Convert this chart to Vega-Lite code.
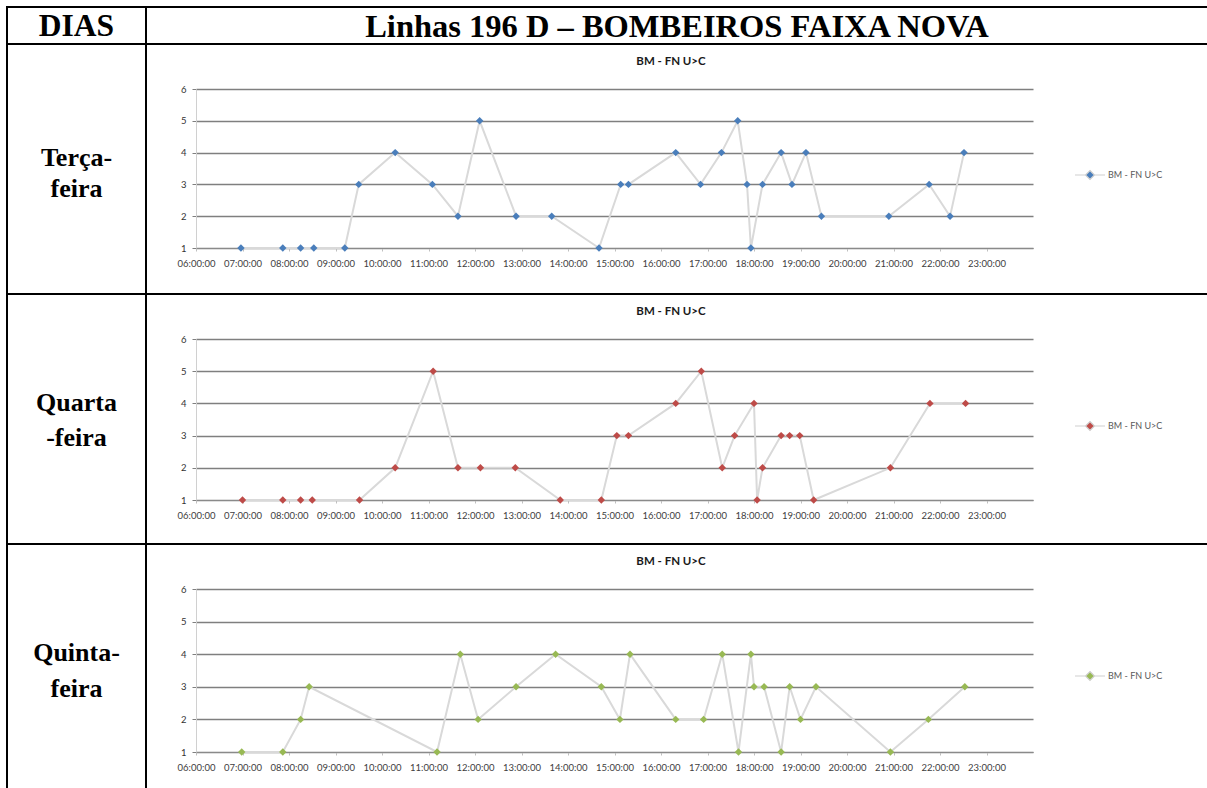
{
  "$schema": "https://vega.github.io/schema/vega-lite/v6.json",
  "padding": {"left": 6, "top": 6, "right": 0, "bottom": 0},
  "background": "white",
  "columns": 2,
  "spacing": 0,
  "bounds": "flush",
  "align": "each",
  "resolve": {"scale": {"color": "independent", "x": "independent", "y": "independent"}, "legend": {"color": "independent"}},
  "config": {
    "view": {"stroke": null},
    "axis": {"labelFont": "Lato", "labelFontSize": 9.5, "labelColor": "#404040", "labelFlush": false, "labelOverlap": false},
    "legend": {"orient": "none", "title": null, "symbolType": "M-1,0L-0.3,0M0.3,0L1,0M0,-0.3L0.3,0L0,0.3L-0.3,0Z", "symbolSize": 900, "symbolStrokeColor": "#d0d0d0", "symbolStrokeWidth": 1.2, "symbolOpacity": 1, "labelFont": "Lato", "labelFontSize": 9, "labelColor": "#595959", "labelOffset": 2}
  },
  "concat": [
    {
      "width": 139, "height": 37,
      "view": {"stroke": "#000", "strokeWidth": 2},
      "data": {"values": [{"t": "DIAS"}]},
      "mark": {"type": "text", "font": "Liberation Serif", "fontSize": 31.5, "fontWeight": "bold", "baseline": "middle", "dy": 1, "color": "#000"},
      "encoding": {"text": {"field": "t"}}
    },
    {
      "width": 1062, "height": 37,
      "view": {"stroke": "#000", "strokeWidth": 2},
      "data": {"values": [{"t": "Linhas 196 D – BOMBEIROS FAIXA NOVA"}]},
      "mark": {"type": "text", "font": "Liberation Serif", "fontSize": 32.5, "fontWeight": "bold", "baseline": "middle", "dy": 1, "color": "#000"},
      "encoding": {"text": {"field": "t"}}
    },
    {
      "width": 139, "height": 250,
      "view": {"stroke": "#000", "strokeWidth": 2},
      "data": {"values": [{"t": ["Terça-", "feira"]}]},
      "mark": {"type": "text", "font": "Liberation Serif", "fontSize": 26, "fontWeight": "bold", "baseline": "middle", "lineHeight": 31, "dy": -11, "color": "#000"},
      "encoding": {"text": {"field": "t"}}
    },
    {
      "width": 1062, "height": 250,
      "view": {"stroke": "#000", "strokeWidth": 2},
      "title": {"text": "BM - FN U>C", "anchor": "middle", "offset": -32, "dx": -6, "baseline": "alphabetic", "font": "Lato", "fontSize": 11.5, "fontWeight": "bold", "color": "#1a1a1a"},
      "data": {
        "values": [
          {"hora": "06:58", "valor": 1, "serie": "BM - FN U>C"},
          {"hora": "07:52", "valor": 1, "serie": "BM - FN U>C"},
          {"hora": "08:15", "valor": 1, "serie": "BM - FN U>C"},
          {"hora": "08:32", "valor": 1, "serie": "BM - FN U>C"},
          {"hora": "09:12", "valor": 1, "serie": "BM - FN U>C"},
          {"hora": "09:30", "valor": 3, "serie": "BM - FN U>C"},
          {"hora": "10:17", "valor": 4, "serie": "BM - FN U>C"},
          {"hora": "11:05", "valor": 3, "serie": "BM - FN U>C"},
          {"hora": "11:38", "valor": 2, "serie": "BM - FN U>C"},
          {"hora": "12:06", "valor": 5, "serie": "BM - FN U>C"},
          {"hora": "12:53", "valor": 2, "serie": "BM - FN U>C"},
          {"hora": "13:39", "valor": 2, "serie": "BM - FN U>C"},
          {"hora": "14:40", "valor": 1, "serie": "BM - FN U>C"},
          {"hora": "15:08", "valor": 3, "serie": "BM - FN U>C"},
          {"hora": "15:18", "valor": 3, "serie": "BM - FN U>C"},
          {"hora": "16:19", "valor": 4, "serie": "BM - FN U>C"},
          {"hora": "16:51", "valor": 3, "serie": "BM - FN U>C"},
          {"hora": "17:18", "valor": 4, "serie": "BM - FN U>C"},
          {"hora": "17:39", "valor": 5, "serie": "BM - FN U>C"},
          {"hora": "17:51", "valor": 3, "serie": "BM - FN U>C"},
          {"hora": "17:56", "valor": 1, "serie": "BM - FN U>C"},
          {"hora": "18:11", "valor": 3, "serie": "BM - FN U>C"},
          {"hora": "18:35", "valor": 4, "serie": "BM - FN U>C"},
          {"hora": "18:49", "valor": 3, "serie": "BM - FN U>C"},
          {"hora": "19:07", "valor": 4, "serie": "BM - FN U>C"},
          {"hora": "19:27", "valor": 2, "serie": "BM - FN U>C"},
          {"hora": "20:54", "valor": 2, "serie": "BM - FN U>C"},
          {"hora": "21:46", "valor": 3, "serie": "BM - FN U>C"},
          {"hora": "22:13", "valor": 2, "serie": "BM - FN U>C"},
          {"hora": "22:31", "valor": 4, "serie": "BM - FN U>C"}
        ],
        "format": {"parse": {"hora": "date:'%H:%M'"}}
      },
      "encoding": {
        "x": {
          "field": "hora", "type": "temporal",
          "scale": {"domain": [{"year": 1900, "month": 1, "date": 1, "hours": 6}, {"year": 1900, "month": 1, "date": 2, "hours": 0}], "range": [50, 887]},
          "axis": {
            "title": null, "format": "%H:%M:%S", "offset": -46, "grid": false,
            "domainColor": "#8a8a8a", "tickColor": "#bfbfbf", "tickSize": 3, "labelPadding": 7,
            "values": [
              {"year": 1900, "month": 1, "date": 1, "hours": 6}, {"year": 1900, "month": 1, "date": 1, "hours": 7},
              {"year": 1900, "month": 1, "date": 1, "hours": 8}, {"year": 1900, "month": 1, "date": 1, "hours": 9},
              {"year": 1900, "month": 1, "date": 1, "hours": 10}, {"year": 1900, "month": 1, "date": 1, "hours": 11},
              {"year": 1900, "month": 1, "date": 1, "hours": 12}, {"year": 1900, "month": 1, "date": 1, "hours": 13},
              {"year": 1900, "month": 1, "date": 1, "hours": 14}, {"year": 1900, "month": 1, "date": 1, "hours": 15},
              {"year": 1900, "month": 1, "date": 1, "hours": 16}, {"year": 1900, "month": 1, "date": 1, "hours": 17},
              {"year": 1900, "month": 1, "date": 1, "hours": 18}, {"year": 1900, "month": 1, "date": 1, "hours": 19},
              {"year": 1900, "month": 1, "date": 1, "hours": 20}, {"year": 1900, "month": 1, "date": 1, "hours": 21},
              {"year": 1900, "month": 1, "date": 1, "hours": 22}, {"year": 1900, "month": 1, "date": 1, "hours": 23}
            ]
          }
        },
        "y": {
          "field": "valor", "type": "quantitative",
          "scale": {"domain": [1, 6], "range": [204, 45], "nice": false, "zero": false},
          "axis": {"title": null, "values": [1, 2, 3, 4, 5, 6], "offset": -50, "grid": true, "gridColor": "#7f7f7f", "gridWidth": 1.5, "domainColor": "#d0d0d0", "tickColor": "#7f7f7f", "tickSize": 4, "labelPadding": 6, "labelColor": "#333"}
        }
      },
      "layer": [
        {"mark": {"type": "line", "color": "#d9d9d9", "strokeWidth": 2}},
        {
          "mark": {"type": "point", "shape": "diamond", "filled": true, "size": 55, "opacity": 1},
          "encoding": {"color": {"field": "serie", "type": "nominal", "scale": {"range": ["#4a7ebb"]}, "legend": {"legendX": 928, "legendY": 115, "symbolFillColor": "#4a7ebb"}}}
        }
      ]
    },
    {
      "width": 139, "height": 250,
      "view": {"stroke": "#000", "strokeWidth": 2},
      "data": {"values": [{"t": ["Quarta", "-feira"]}]},
      "mark": {"type": "text", "font": "Liberation Serif", "fontSize": 26, "fontWeight": "bold", "baseline": "middle", "lineHeight": 35, "dy": -16, "color": "#000"},
      "encoding": {"text": {"field": "t"}}
    },
    {
      "width": 1062, "height": 250,
      "view": {"stroke": "#000", "strokeWidth": 2},
      "title": {"text": "BM - FN U>C", "anchor": "middle", "offset": -32, "dx": -6, "baseline": "alphabetic", "font": "Lato", "fontSize": 11.5, "fontWeight": "bold", "color": "#1a1a1a"},
      "data": {
        "values": [
          {"hora": "07:00", "valor": 1, "serie": "BM - FN U>C"},
          {"hora": "07:52", "valor": 1, "serie": "BM - FN U>C"},
          {"hora": "08:15", "valor": 1, "serie": "BM - FN U>C"},
          {"hora": "08:30", "valor": 1, "serie": "BM - FN U>C"},
          {"hora": "09:31", "valor": 1, "serie": "BM - FN U>C"},
          {"hora": "10:17", "valor": 2, "serie": "BM - FN U>C"},
          {"hora": "11:06", "valor": 5, "serie": "BM - FN U>C"},
          {"hora": "11:38", "valor": 2, "serie": "BM - FN U>C"},
          {"hora": "12:07", "valor": 2, "serie": "BM - FN U>C"},
          {"hora": "12:52", "valor": 2, "serie": "BM - FN U>C"},
          {"hora": "13:50", "valor": 1, "serie": "BM - FN U>C"},
          {"hora": "14:43", "valor": 1, "serie": "BM - FN U>C"},
          {"hora": "15:03", "valor": 3, "serie": "BM - FN U>C"},
          {"hora": "15:18", "valor": 3, "serie": "BM - FN U>C"},
          {"hora": "16:19", "valor": 4, "serie": "BM - FN U>C"},
          {"hora": "16:52", "valor": 5, "serie": "BM - FN U>C"},
          {"hora": "17:19", "valor": 2, "serie": "BM - FN U>C"},
          {"hora": "17:35", "valor": 3, "serie": "BM - FN U>C"},
          {"hora": "18:00", "valor": 4, "serie": "BM - FN U>C"},
          {"hora": "18:04", "valor": 1, "serie": "BM - FN U>C"},
          {"hora": "18:11", "valor": 2, "serie": "BM - FN U>C"},
          {"hora": "18:35", "valor": 3, "serie": "BM - FN U>C"},
          {"hora": "18:46", "valor": 3, "serie": "BM - FN U>C"},
          {"hora": "18:59", "valor": 3, "serie": "BM - FN U>C"},
          {"hora": "19:17", "valor": 1, "serie": "BM - FN U>C"},
          {"hora": "20:56", "valor": 2, "serie": "BM - FN U>C"},
          {"hora": "21:47", "valor": 4, "serie": "BM - FN U>C"},
          {"hora": "22:33", "valor": 4, "serie": "BM - FN U>C"}
        ],
        "format": {"parse": {"hora": "date:'%H:%M'"}}
      },
      "encoding": {
        "x": {
          "field": "hora", "type": "temporal",
          "scale": {"domain": [{"year": 1900, "month": 1, "date": 1, "hours": 6}, {"year": 1900, "month": 1, "date": 2, "hours": 0}], "range": [50, 887]},
          "axis": {
            "title": null, "format": "%H:%M:%S", "offset": -44, "grid": false,
            "domainColor": "#8a8a8a", "tickColor": "#bfbfbf", "tickSize": 3, "labelPadding": 7,
            "values": [
              {"year": 1900, "month": 1, "date": 1, "hours": 6}, {"year": 1900, "month": 1, "date": 1, "hours": 7},
              {"year": 1900, "month": 1, "date": 1, "hours": 8}, {"year": 1900, "month": 1, "date": 1, "hours": 9},
              {"year": 1900, "month": 1, "date": 1, "hours": 10}, {"year": 1900, "month": 1, "date": 1, "hours": 11},
              {"year": 1900, "month": 1, "date": 1, "hours": 12}, {"year": 1900, "month": 1, "date": 1, "hours": 13},
              {"year": 1900, "month": 1, "date": 1, "hours": 14}, {"year": 1900, "month": 1, "date": 1, "hours": 15},
              {"year": 1900, "month": 1, "date": 1, "hours": 16}, {"year": 1900, "month": 1, "date": 1, "hours": 17},
              {"year": 1900, "month": 1, "date": 1, "hours": 18}, {"year": 1900, "month": 1, "date": 1, "hours": 19},
              {"year": 1900, "month": 1, "date": 1, "hours": 20}, {"year": 1900, "month": 1, "date": 1, "hours": 21},
              {"year": 1900, "month": 1, "date": 1, "hours": 22}, {"year": 1900, "month": 1, "date": 1, "hours": 23}
            ]
          }
        },
        "y": {
          "field": "valor", "type": "quantitative",
          "scale": {"domain": [1, 6], "range": [206, 45], "nice": false, "zero": false},
          "axis": {"title": null, "values": [1, 2, 3, 4, 5, 6], "offset": -50, "grid": true, "gridColor": "#7f7f7f", "gridWidth": 1.5, "domainColor": "#d0d0d0", "tickColor": "#7f7f7f", "tickSize": 4, "labelPadding": 6, "labelColor": "#333"}
        }
      },
      "layer": [
        {"mark": {"type": "line", "color": "#d9d9d9", "strokeWidth": 2}},
        {
          "mark": {"type": "point", "shape": "diamond", "filled": true, "size": 55, "opacity": 1},
          "encoding": {"color": {"field": "serie", "type": "nominal", "scale": {"range": ["#be4b48"]}, "legend": {"legendX": 928, "legendY": 116, "symbolFillColor": "#be4b48"}}}
        }
      ]
    },
    {
      "width": 139, "height": 245,
      "view": {"stroke": "#000", "strokeWidth": 2},
      "data": {"values": [{"t": ["Quinta-", "feira"]}]},
      "mark": {"type": "text", "font": "Liberation Serif", "fontSize": 26, "fontWeight": "bold", "baseline": "middle", "lineHeight": 36, "dy": -14, "color": "#000"},
      "encoding": {"text": {"field": "t"}}
    },
    {
      "width": 1062, "height": 245,
      "view": {"stroke": "#000", "strokeWidth": 2},
      "title": {"text": "BM - FN U>C", "anchor": "middle", "offset": -32, "dx": -6, "baseline": "alphabetic", "font": "Lato", "fontSize": 11.5, "fontWeight": "bold", "color": "#1a1a1a"},
      "data": {
        "values": [
          {"hora": "06:59", "valor": 1, "serie": "BM - FN U>C"},
          {"hora": "07:52", "valor": 1, "serie": "BM - FN U>C"},
          {"hora": "08:15", "valor": 2, "serie": "BM - FN U>C"},
          {"hora": "08:26", "valor": 3, "serie": "BM - FN U>C"},
          {"hora": "11:11", "valor": 1, "serie": "BM - FN U>C"},
          {"hora": "11:41", "valor": 4, "serie": "BM - FN U>C"},
          {"hora": "12:04", "valor": 2, "serie": "BM - FN U>C"},
          {"hora": "12:53", "valor": 3, "serie": "BM - FN U>C"},
          {"hora": "13:44", "valor": 4, "serie": "BM - FN U>C"},
          {"hora": "14:43", "valor": 3, "serie": "BM - FN U>C"},
          {"hora": "15:07", "valor": 2, "serie": "BM - FN U>C"},
          {"hora": "15:20", "valor": 4, "serie": "BM - FN U>C"},
          {"hora": "16:19", "valor": 2, "serie": "BM - FN U>C"},
          {"hora": "16:55", "valor": 2, "serie": "BM - FN U>C"},
          {"hora": "17:19", "valor": 4, "serie": "BM - FN U>C"},
          {"hora": "17:40", "valor": 1, "serie": "BM - FN U>C"},
          {"hora": "17:56", "valor": 4, "serie": "BM - FN U>C"},
          {"hora": "18:00", "valor": 3, "serie": "BM - FN U>C"},
          {"hora": "18:13", "valor": 3, "serie": "BM - FN U>C"},
          {"hora": "18:35", "valor": 1, "serie": "BM - FN U>C"},
          {"hora": "18:46", "valor": 3, "serie": "BM - FN U>C"},
          {"hora": "19:00", "valor": 2, "serie": "BM - FN U>C"},
          {"hora": "19:20", "valor": 3, "serie": "BM - FN U>C"},
          {"hora": "20:56", "valor": 1, "serie": "BM - FN U>C"},
          {"hora": "21:45", "valor": 2, "serie": "BM - FN U>C"},
          {"hora": "22:32", "valor": 3, "serie": "BM - FN U>C"}
        ],
        "format": {"parse": {"hora": "date:'%H:%M'"}}
      },
      "encoding": {
        "x": {
          "field": "hora", "type": "temporal",
          "scale": {"domain": [{"year": 1900, "month": 1, "date": 1, "hours": 6}, {"year": 1900, "month": 1, "date": 2, "hours": 0}], "range": [50, 887]},
          "axis": {
            "title": null, "format": "%H:%M:%S", "offset": -37, "grid": false,
            "domainColor": "#8a8a8a", "tickColor": "#bfbfbf", "tickSize": 3, "labelPadding": 7,
            "values": [
              {"year": 1900, "month": 1, "date": 1, "hours": 6}, {"year": 1900, "month": 1, "date": 1, "hours": 7},
              {"year": 1900, "month": 1, "date": 1, "hours": 8}, {"year": 1900, "month": 1, "date": 1, "hours": 9},
              {"year": 1900, "month": 1, "date": 1, "hours": 10}, {"year": 1900, "month": 1, "date": 1, "hours": 11},
              {"year": 1900, "month": 1, "date": 1, "hours": 12}, {"year": 1900, "month": 1, "date": 1, "hours": 13},
              {"year": 1900, "month": 1, "date": 1, "hours": 14}, {"year": 1900, "month": 1, "date": 1, "hours": 15},
              {"year": 1900, "month": 1, "date": 1, "hours": 16}, {"year": 1900, "month": 1, "date": 1, "hours": 17},
              {"year": 1900, "month": 1, "date": 1, "hours": 18}, {"year": 1900, "month": 1, "date": 1, "hours": 19},
              {"year": 1900, "month": 1, "date": 1, "hours": 20}, {"year": 1900, "month": 1, "date": 1, "hours": 21},
              {"year": 1900, "month": 1, "date": 1, "hours": 22}, {"year": 1900, "month": 1, "date": 1, "hours": 23}
            ]
          }
        },
        "y": {
          "field": "valor", "type": "quantitative",
          "scale": {"domain": [1, 6], "range": [208, 45], "nice": false, "zero": false},
          "axis": {"title": null, "values": [1, 2, 3, 4, 5, 6], "offset": -50, "grid": true, "gridColor": "#7f7f7f", "gridWidth": 1.5, "domainColor": "#d0d0d0", "tickColor": "#7f7f7f", "tickSize": 4, "labelPadding": 6, "labelColor": "#333"}
        }
      },
      "layer": [
        {"mark": {"type": "line", "color": "#d9d9d9", "strokeWidth": 2}},
        {
          "mark": {"type": "point", "shape": "diamond", "filled": true, "size": 55, "opacity": 1},
          "encoding": {"color": {"field": "serie", "type": "nominal", "scale": {"range": ["#98b954"]}, "legend": {"legendX": 928, "legendY": 116, "symbolFillColor": "#98b954"}}}
        }
      ]
    }
  ]
}
